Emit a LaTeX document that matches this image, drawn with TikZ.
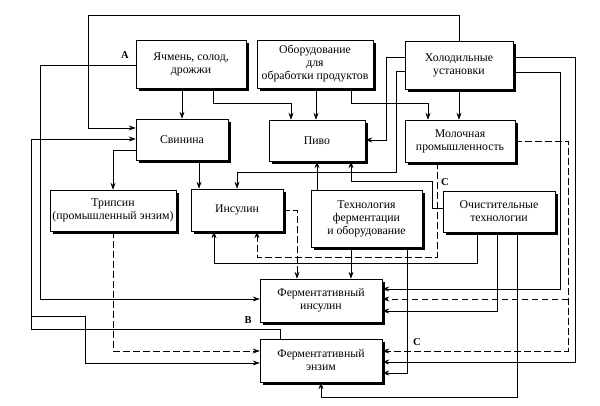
\documentclass[tikz,border=0pt]{standalone}
\usepackage{fontspec}
\setmainfont{Liberation Serif}
\usetikzlibrary{arrows.meta,calc}
\tikzset{
  box/.style={draw, fill=white, line width=0.6pt, align=center, inner sep=1pt,
    font=\fontsize{11.8}{13}\selectfont},
  ln/.style={line width=0.65pt},
  arr/.style={ln, -{Stealth[length=7pt,width=5pt,inset=2.5pt]}},
  dsh/.style={dash pattern=on 6.5pt off 3.5pt},
  lbl/.style={font=\fontsize{10.5}{12}\selectfont\bfseries, inner sep=0pt},
  shd/.style={fill=black}
}
\newcommand\boxshade[1]{%
  \fill[shd] ($(#1.north east)+(0.3,3)$) rectangle ($(#1.south east)+(2.3,2.3)$);
  \fill[shd] ($(#1.south west)+(3,0.3)$) rectangle ($(#1.south east)+(2.3,2.3)$);}
\begin{document}
\begin{tikzpicture}[x=1pt,y=-1pt]
\useasboundingbox (0,0) rectangle (600,406);
% boxes
\node[box, minimum width=110pt, minimum height=48pt] (Ya) at (191,64) {Ячмень, солод,\\дрожжи};
\node[box, minimum width=116pt, minimum height=48pt] (Ob) at (315,64) {Оборудование\\для\\обработки продуктов};
\node[box, minimum width=108pt, minimum height=48pt] (Ho) at (459,65) {Холодильные\\установки};
\node[box, minimum width=92pt, minimum height=41pt] (Sv) at (182,139.5) {Свинина};
\node[box, minimum width=96pt, minimum height=41pt] (Pi) at (317,140.5) {Пиво};
\node[box, minimum width=110pt, minimum height=42pt] (Mo) at (460,141) {Молочная\\промышленность};
\node[box, minimum width=126pt, minimum height=41pt] (Tr) at (113,210.5) {Трипсин\\(промышленный энзим)};
\node[box, minimum width=92pt, minimum height=42pt] (In) at (237,210) {Инсулин};
\node[box, minimum width=111pt, minimum height=57pt] (Te) at (366.5,218.5) {Технология\\ферментации\\и оборудование};
\node[box, minimum width=112pt, minimum height=41pt] (Oc) at (499,211.5) {Очистительные\\технологии};
\node[box, minimum width=122pt, minimum height=43pt] (FI) at (321,300.5) {Ферментативный\\инсулин};
\node[box, minimum width=122pt, minimum height=43pt] (FE) at (321,360.5) {Ферментативный\\энзим};
\foreach \b in {Ya,Ob,Ho,Sv,Pi,Mo,Tr,In,Te,Oc,FI,FE} {\boxshade{\b}}
% labels
\node[lbl] (lA) at (125,55) {A};
\node[lbl] (lB) at (248,320) {B};
\node[lbl] (lC1) at (445,182) {C};
\node[lbl] (lC2) at (417,342) {C};
% connectors
\draw[arr] (Ho.north) |- (88,15) |- (Sv.west |- 0,128);
\draw[arr] (Ya.west |- 0,65) -| (40,299) -- (FI.west |- 0,299);
\draw[arr] (FE.north -| 280,0) -- (280,329) -| (31,139) -- (Sv.west |- 0,139);
\draw[arr] (31,316) -| (85,363) -- (FE.west |- 0,363);
\draw[arr] (Ya.south -| 182,0) -- (Sv.north -| 182,0);
\draw[arr] (Ya.south -| 213,0) |- (291,103) -- (Pi.north -| 291,0);
\draw[arr] (Ob.south -| 316,0) -- (Pi.north -| 316,0);
\draw[arr] (Ob.south -| 351,0) |- (428,103) -- (Mo.north -| 428,0);
\draw[arr] (Ho.south) -- (Ho.south |- Mo.north);
\draw[arr] (Ho.west |- 0,57) -| (386,140) -- (Pi.east |- 0,140);
\draw[arr] (Ho.west |- 0,71) -| (396,172) -| (In.north);
\draw[arr] (Sv.west |- 0,150) -| (Tr.north);
\draw[arr] (Sv.south -| 199,0) -- (In.north -| 199,0);
\draw[arr] (Te.north -| 317,0) -- (Pi.south -| 317,0);
\draw[arr] (Oc.west |- 0,208) -| (432,181) -| (Pi.south -| 351,0);
\draw[arr, dsh] (In.east |- 0,210) -| (FI.north -| 297,0);
\draw[arr, dsh] (Mo.south -| 437,0) |- (257,257) -- (In.south -| 257,0);
\draw[arr] (Oc.south -| 477,0) |- (214,263) -- (In.south -| 214,0);
\draw[arr] (Oc.south -| 497,0) |- (FI.east |- 0,311);
\draw[arr] (Oc.south -| 517,0) |- (321,397) -- (FE.south);
\draw[arr] (Te.south -| 351,0) -- (FI.north -| 351,0);
\draw[arr] (Te.south -| 407,0) |- (FE.east |- 0,373);
\draw[arr] (Ho.east |- 0,72) -| (560,289) -- (FI.east |- 0,289);
\draw[arr] (Ho.east |- 0,57) -| (575,362) -- (FE.east |- 0,362);
\draw[arr, dsh] (Mo.east |- 0,141) -| (568,351) -- (FE.east |- 0,351);
\draw[arr, dsh] (568,299) -- (FI.east |- 0,299);
\draw[arr, dsh] (Tr.south) |- (FE.west |- 0,351);
\end{tikzpicture}
\end{document}
